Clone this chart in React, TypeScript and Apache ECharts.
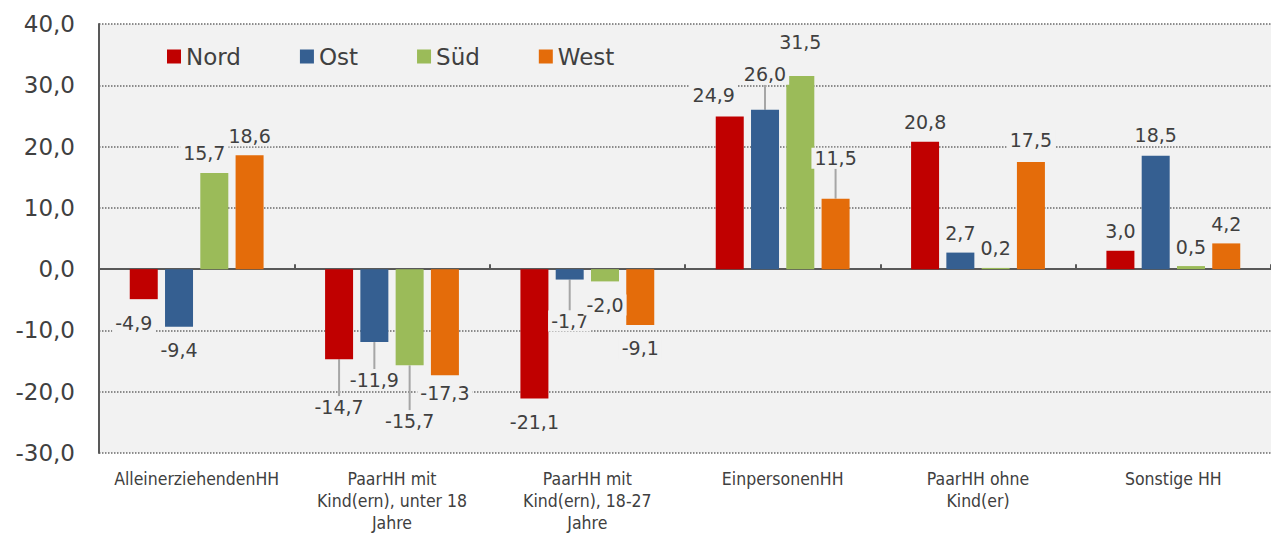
import React, { useEffect, useRef } from "react";
import * as echarts from "echarts";

const categories = [
  "AlleinerziehendenHH",
  "PaarHH mit\nKind(ern), unter 18\nJahre",
  "PaarHH mit\nKind(ern), 18-27\nJahre",
  "EinpersonenHH",
  "PaarHH ohne\nKind(er)",
  "Sonstige HH",
];
const seriesNames = ["Nord", "Ost", "Süd", "West"];
const nord = [-4.9, -14.7, -21.1, 24.9, 20.8, 3.0];
const ost = [-9.4, -11.9, -1.7, 26.0, 2.7, 18.5];
const sued = [15.7, -15.7, -2.0, 31.5, 0.2, 0.5];
const west = [18.6, -17.3, -9.1, 11.5, 17.5, 4.2];
const yTicks = { min: -30, max: 40, interval: 10 };

// styling: label shifts (dx, dy) relative to default outside position, and leader lines
const labelShift = [
  [[-10, 0], [0, 24], [0, 0], [-16, -2], [0, 0], [0, 0]],
  [[0, 0], [0, 14], [0, 18], [0, -16], [0, 0], [0, -1]],
  [[-10, 0], [0, 32], [0, 0], [0, -15], [0, 0], [0, 0]],
  [[0, 0], [0, -6], [0, 0], [0, -21], [0, -2], [0, 0]],
];
const leader = [
  [false, true, false, false, false, false],
  [false, true, true, true, false, false],
  [false, true, false, false, false, false],
  [false, false, false, true, false, false],
];
const colors = ["#C00000", "#355F91", "#9BBB59", "#E46C0A"];

const fmt = (v: number) => v.toFixed(1).replace(".", ",");

export default function App() {
  const ref = useRef<HTMLDivElement>(null);
  useEffect(() => {
    if (!ref.current) return;
    const chart = echarts.init(ref.current, null, { renderer: "svg" });
    const all = [nord, ost, sued, west];
    const font = "'DejaVu Sans', Verdana, sans-serif";
    chart.setOption({
      animation: false,
      textStyle: { fontFamily: font },
      legend: {
        left: 162,
        top: 40,
        itemWidth: 14,
        itemHeight: 14,
        itemGap: 59,
        icon: "rect",
        textStyle: { fontSize: 23, color: "#404040", fontFamily: font },
        data: seriesNames,
      },
      grid: {
        left: 99,
        right: 0,
        top: 24,
        bottom: 81,
        outerBoundsMode: "none",
        containLabel: false,
        show: true,
        backgroundColor: "#F2F2F2",
        borderWidth: 0,
      },
      xAxis: {
        type: "category",
        data: categories,
        axisLine: { onZero: true, lineStyle: { color: "#595959", width: 2 } },
        axisTick: { show: true, inside: true, length: 5, lineStyle: { color: "#595959", width: 2 } },
        axisLabel: {
          interval: 0,
          margin: 15,
          fontSize: 17.5,
          lineHeight: 22,
          color: "#404040",
          fontFamily: "'DejaVu Sans Condensed', 'DejaVu Sans', sans-serif",
        },
        splitLine: { show: false },
      },
      yAxis: {
        type: "value",
        min: yTicks.min,
        max: yTicks.max,
        interval: yTicks.interval,
        axisLine: { show: true, lineStyle: { color: "#595959", width: 2 } },
        axisTick: { show: false },
        axisLabel: {
          formatter: (v: number) => fmt(v),
          fontSize: 23,
          color: "#404040",
          margin: 24,
          fontFamily: font,
        },
        splitLine: { show: true, lineStyle: { type: "dotted", color: "#6A6A6A", width: 1.5 } },
      },
      series: all.map((vals, si) => ({
        name: seriesNames[si],
        type: "bar",
        barWidth: 28,
        barGap: "26%",
        itemStyle: { color: colors[si] },
        emphasis: { disabled: true },
        label: {
          show: true,
          formatter: (p: any) => fmt(p.value),
          fontSize: 19,
          color: "#404040",
          fontFamily: font,
          backgroundColor: "#F2F2F2",
          padding: [1, 3],
        },
        labelLine: { show: false, lineStyle: { color: "#A6A6A6", width: 2 } },
        labelLayout: (params: any) => {
          const s = labelShift[params.seriesIndex][params.dataIndex];
          return { dx: s[0], dy: s[1] };
        },
        data: vals.map((v, i) => ({
          value: v,
          label: { position: v < 0 ? "bottom" : "top", distance: v < 0 ? 13 : 9 },
          labelLine: { show: leader[si][i], lineStyle: { color: "#A6A6A6", width: 2 } },
        })),
      })),
    });
    return () => chart.dispose();
  }, []);
  return (
    <div
      ref={ref}
      style={{ position: "fixed", left: 0, top: 0, width: 1271, height: 534, background: "#fff" }}
    />
  );
}
